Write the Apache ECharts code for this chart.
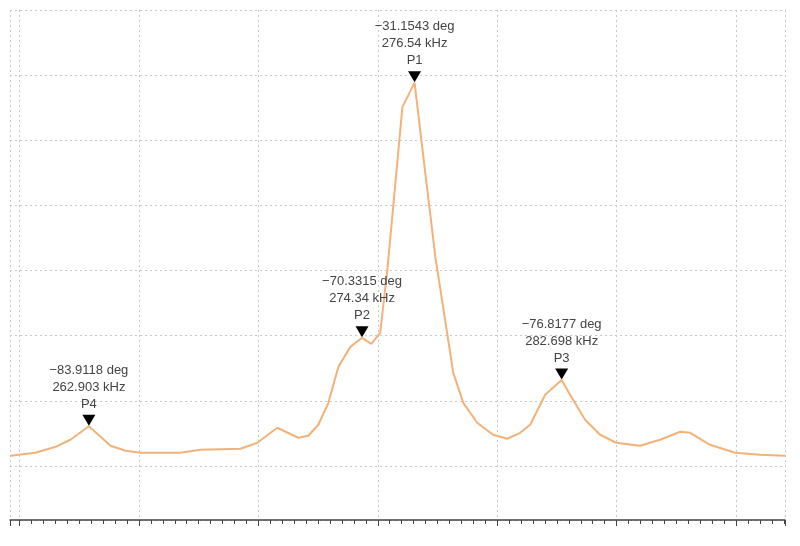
<!DOCTYPE html>
<html><head><meta charset="utf-8">
<script src="https://cdn.jsdelivr.net/npm/echarts@6/dist/echarts.min.js"></script>
<style>html,body{margin:0;background:#fff}#c{width:800px;height:546px}</style>
</head><body><div id="c"></div>
<script>
const freqKHz = [259.62,260.67,261.51,262.13,262.903,263.81,264.44,265.06,266.74,267.57,269.25,269.96,270.79,271.67,272.09,272.51,272.93,273.35,273.85,274.34,274.73,275.10,275.40,276.03,276.54,276.86,277.41,278.16,278.58,279.16,279.83,280.42,280.96,281.38,282.01,282.698,283.05,283.68,284.31,284.98,285.98,286.82,287.66,288.08,288.91,289.96,291.00,292.05];
const phaseDeg = [-88.44,-87.98,-87.06,-85.98,-83.9118,-86.90,-87.67,-87.98,-87.98,-87.52,-87.36,-86.44,-84.14,-85.67,-85.37,-83.68,-80.31,-74.79,-71.72,-70.3315,-71.26,-69.57,-59.91,-34.91,-31.1543,-41.04,-57.91,-75.71,-80.31,-83.37,-85.21,-85.83,-84.91,-83.68,-79.08,-76.8177,-79.08,-82.91,-85.21,-86.44,-86.90,-85.98,-84.75,-84.91,-86.75,-87.98,-88.28,-88.44];
const peakNames = ['P1','P2','P3','P4'];
const peakFreq = [276.54,274.34,282.698,262.903];
const peakDeg = [-31.1543,-70.3315,-76.8177,-83.9118];

const chart = echarts.init(document.getElementById('c'));
const grid = {show:true,lineStyle:{color:'#c8c8c8',type:[2,3],width:1}};
chart.setOption({
  animation:false,
  grid:{left:10,right:15,top:10,bottom:26},
  xAxis:{type:'value',min:259.6,max:292.05,splitNumber:6,
    axisLine:{lineStyle:{color:'#444',width:1.5}},
    axisTick:{length:6,lineStyle:{color:'#444'}},
    minorTick:{show:true,splitNumber:10,length:4,lineStyle:{color:'#444'}},
    axisLabel:{show:false},splitLine:grid},
  yAxis:{type:'value',min:-98.3,max:-20,splitNumber:8,
    axisLine:{show:false},axisTick:{show:false},axisLabel:{show:false},splitLine:grid},
  series:[{type:'line',data:freqKHz.map((f,i)=>[f,phaseDeg[i]]),showSymbol:false,
    lineStyle:{color:'#f2b27a',width:2},itemStyle:{color:'#f2b27a'},
    markPoint:{symbol:'triangle',symbolRotate:180,symbolSize:[13,11],symbolOffset:[0,-6],
      itemStyle:{color:'#000'},
      label:{position:'top',distance:2,color:'#444',fontSize:13,lineHeight:17,fontFamily:'Liberation Sans, Arial',
        formatter:p=>p.data.txt},
      data:peakNames.map((n,i)=>({coord:[peakFreq[i],peakDeg[i]],
        txt:(peakDeg[i]<0?'\u2212':'')+Math.abs(peakDeg[i])+' deg\n'+peakFreq[i]+' kHz\n'+n}))}
  }]
});
</script></body></html>
